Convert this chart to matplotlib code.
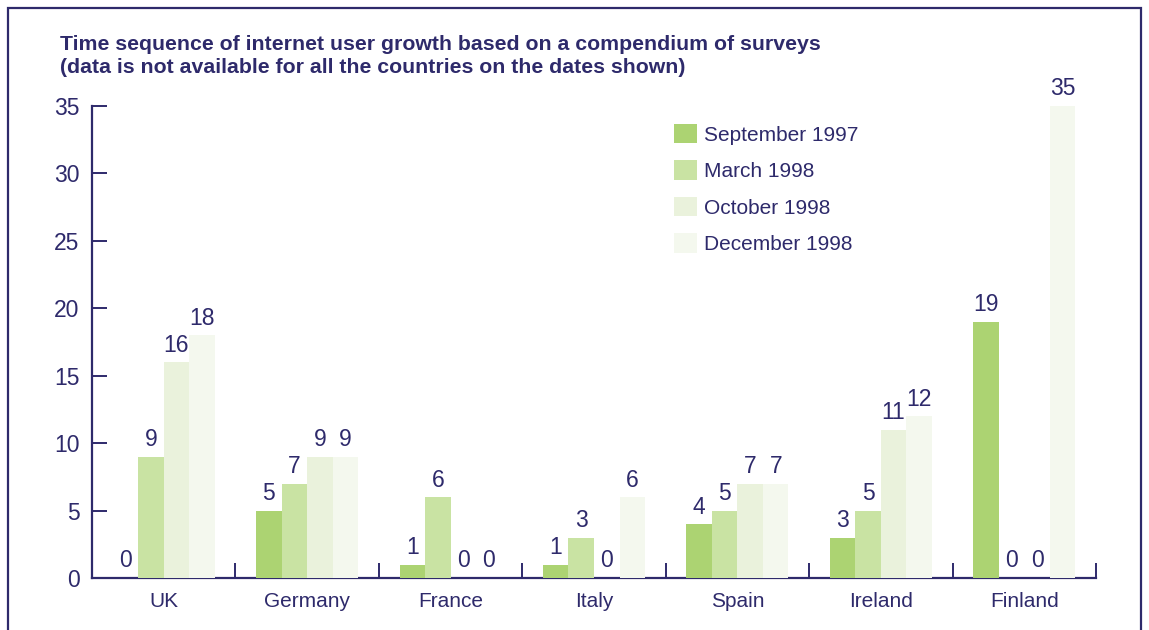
import matplotlib.pyplot as plt
import matplotlib.patches as mpatches
import numpy as np

# values
countries = ['UK', 'Germany', 'France', 'Italy', 'Spain', 'Ireland', 'Finland']
series_names = ['September 1997', 'March 1998', 'October 1998', 'December 1998']
sep_1997 = [0, 5, 1, 1, 4, 3, 19]
mar_1998 = [9, 7, 6, 3, 5, 5, 0]
oct_1998 = [16, 9, 0, 0, 7, 11, 0]
dec_1998 = [18, 9, 0, 6, 7, 12, 35]
yticks = [0, 5, 10, 15, 20, 25, 30, 35]

navy = '#2e2a6b'
bar_colors = ['#acd372', '#c9e3a3', '#eaf2dc', '#f4f8ee']

plt.rcParams['font.family'] = ['Liberation Sans', 'DejaVu Sans']

fig = plt.figure(figsize=(11.49, 6.30), dpi=100)
ax = fig.add_axes([92 / 1149, 1 - 578 / 630, (1096 - 92) / 1149, (578 - 106) / 630])

# border round the whole panel (bottom edge runs off the picture)
fig.patches.append(mpatches.Rectangle((8 / 1149, -0.05), (1141 - 8) / 1149, 1.05 - 8 / 630,
                                      transform=fig.transFigure, fill=False,
                                      edgecolor=navy, linewidth=1.6))

x = np.arange(len(countries))
w = 0.178
all_series = [sep_1997, mar_1998, oct_1998, dec_1998]
for i, vals in enumerate(all_series):
    offs = (i - 1.5) * w
    bars = ax.bar(x + offs, vals, width=w, color=bar_colors[i], label=series_names[i],
                  zorder=3, linewidth=0)
    ax.bar_label(bars, labels=[str(v) for v in vals], padding=4, fontsize=16.5,
                 color=navy, clip_on=False)

ax.set_xlim(-0.5, len(countries) - 0.5)
ax.set_ylim(0, 35)

for s in ['top', 'right']:
    ax.spines[s].set_visible(False)
for s in ['left', 'bottom']:
    ax.spines[s].set_color(navy)
    ax.spines[s].set_linewidth(1.6)

ax.set_yticks(yticks)
ax.tick_params(axis='y', direction='in', length=11, width=1.4, color=navy,
               labelcolor=navy, labelsize=16.5, pad=9)
ax.set_xticks(x)
ax.set_xticklabels(countries)
ax.tick_params(axis='x', which='major', length=0, labelcolor=navy, labelsize=15, pad=10)
ax.set_xticks(x + 0.5, minor=True)
ax.tick_params(axis='x', which='minor', direction='in', length=11, width=1.4, color=navy)

ax.text(60 / 1149, 1 - 73 / 630,
        'Time sequence of internet user growth based on a compendium of surveys\n'
        '(data is not available for all the countries on the dates shown)',
        transform=fig.transFigure, fontsize=15.3, fontweight='bold', color=navy,
        va='baseline', linespacing=1.29)

leg = ax.legend(loc='upper left', bbox_to_anchor=(0.5797, 0.962), frameon=False,
                fontsize=15, handlelength=1.08, handleheight=1.06, handletextpad=0.34,
                labelspacing=0.75, borderpad=0, borderaxespad=0)
for t in leg.get_texts():
    t.set_color(navy)

fig.savefig('out.png', dpi=100)
